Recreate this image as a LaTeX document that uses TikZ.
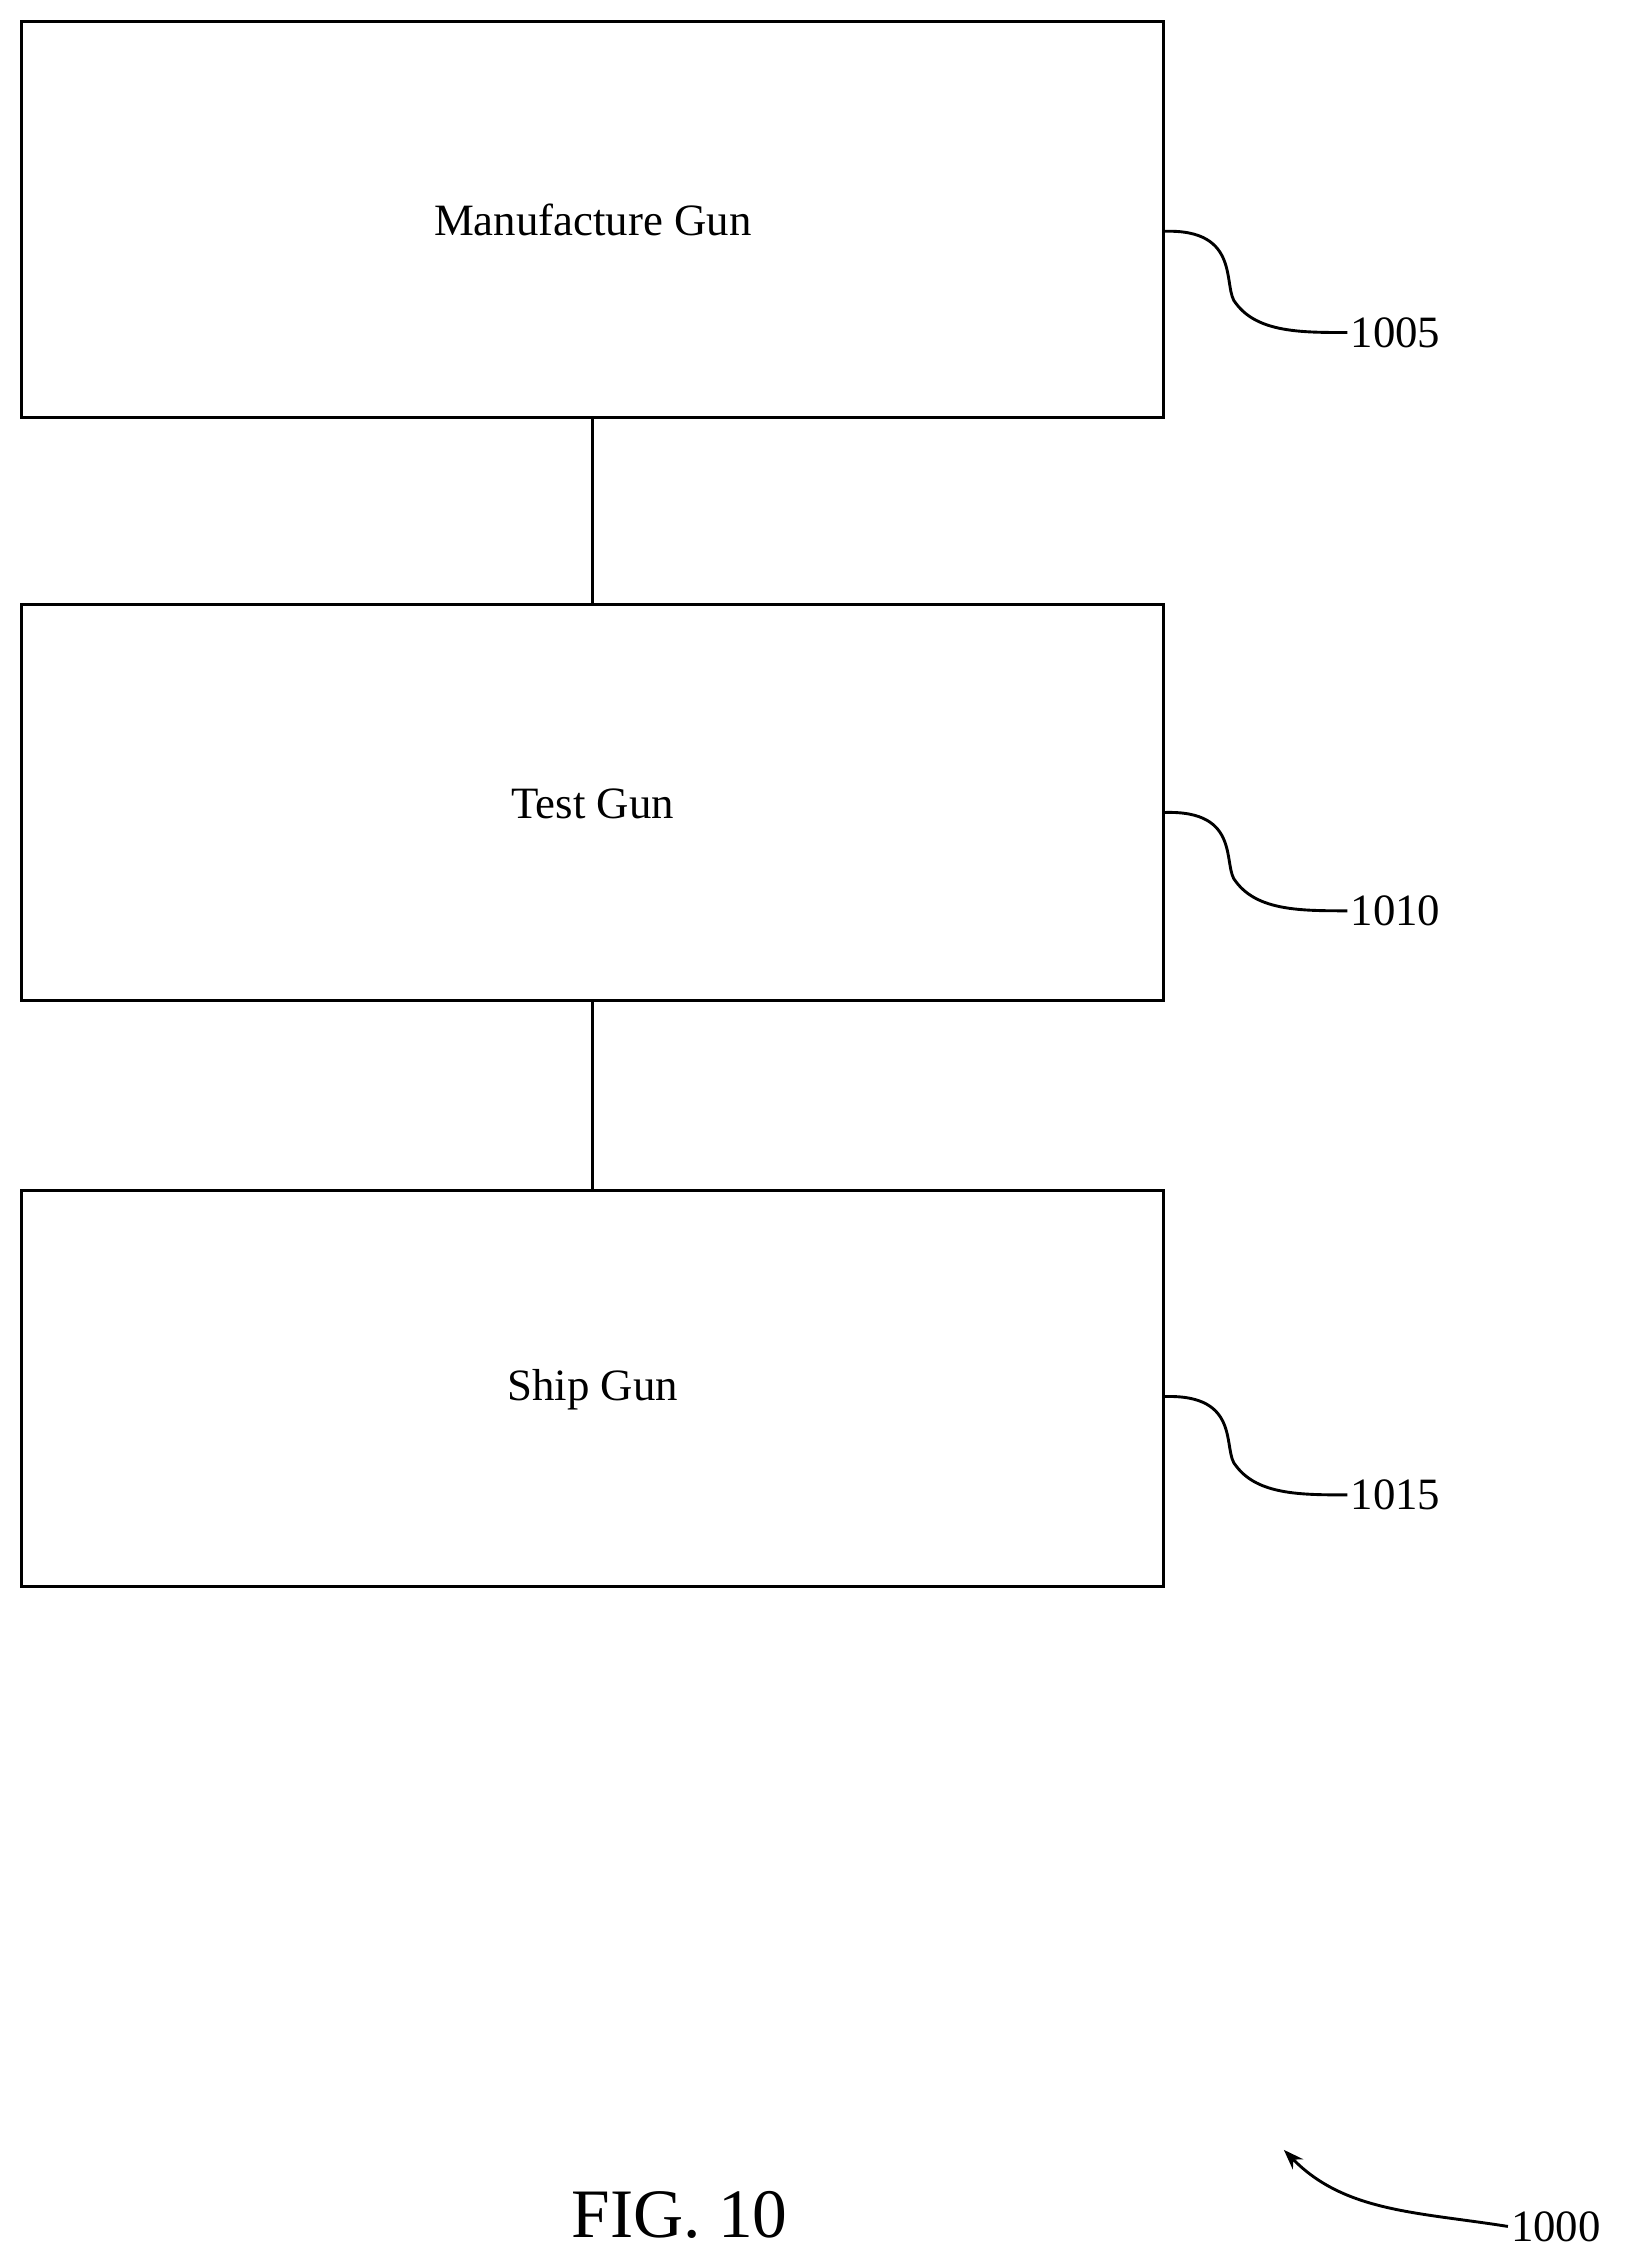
\documentclass[tikz,border=0pt]{standalone}
\usepackage{fontspec}
\setmainfont{Liberation Serif}
\usetikzlibrary{arrows.meta}
\begin{document}
\begin{tikzpicture}[x=1pt,y=-1pt,
  box/.style={draw,line width=2pt,minimum width=790pt,minimum height=274pt,inner sep=0pt,font=\fontsize{31}{36}\selectfont},
  lab/.style={font=\fontsize{31}{36}\selectfont,anchor=west,inner sep=2pt},
  sq/.style={line width=2pt}]
\useasboundingbox (0,0) rectangle (1135,1566);
\node[box] (b1) at (410,152) {};
\node[box] (b2) at (410,555) {};
\node[box] (b3) at (410,960.5) {};
\node[font=\fontsize{31}{36}\selectfont] (t1) at (410,152) {Manufacture Gun};
\node[font=\fontsize{31}{36}\selectfont] (t2) at (410,556) {Test Gun};
\node[font=\fontsize{31}{36}\selectfont] (t3) at (410,961) {Ship Gun};
\draw[line width=2pt] (b1.south) -- (b2.north);
\draw[line width=2pt] (b2.south) -- (b3.north);
\node[lab] (l1) at (932,230) {1005};
\node[lab] (l2) at (932,630) {1010};
\node[lab] (l3) at (932,1034) {1015};
\coordinate (s1) at (805,160);
\coordinate (s2) at (805,562);
\coordinate (s3) at (805,966);
\draw[sq] (s1) .. controls (860,158) and (845,200) .. (855,210) .. controls (870,230) and (900,230) .. (l1.west);
\draw[sq] (s2) .. controls (860,560) and (845,600) .. (855,610) .. controls (870,630) and (900,630) .. (l2.west);
\draw[sq] (s3) .. controls (860,964) and (845,1004) .. (855,1014) .. controls (870,1034) and (900,1034) .. (l3.west);
\node[font=\fontsize{48}{54}\selectfont] (fig) at (470,1532) {FIG. 10};
\node[lab] (l4) at (1043,1540) {1000};
\coordinate (a4) at (888,1487);
\draw[sq,-{Stealth[length=14pt,width=10pt]}] (l4.west) .. controls (980,1530) and (930,1530) .. (a4);
\end{tikzpicture}
\end{document}
